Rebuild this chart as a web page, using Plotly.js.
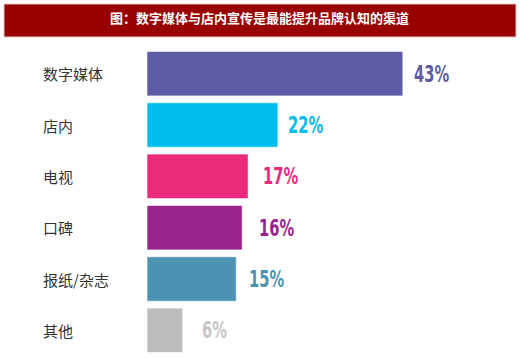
<!DOCTYPE html>
<html>
<head>
<meta charset="utf-8">
<script src="https://cdn.plot.ly/plotly-3.0.1.min.js"></script>
<style>html,body{margin:0;padding:0;background:#fff;}#chart{width:520px;height:361px;}</style>
</head>
<body>
<div id="chart"></div>
<script>
const titleText = "图：数字媒体与店内宣传是最能提升品牌认知的渠道";
const categories = ["数字媒体", "店内", "电视", "口碑", "报纸/杂志", "其他"];
const values = [43, 22, 17, 16, 15, 6];
const valueLabels = ["43%", "22%", "17%", "16%", "15%", "6%"];
const barColors = ["#5f5ca6", "#00bdf0", "#ec297b", "#97248b", "#4b93b3", "#bdbdbe"];
const labelColors = ["#5f5ca6", "#00bdf0", "#ec297b", "#97248b", "#4b93b3", "#c6c6c6"];
const labelGaps = [10, 9, 14, 16, 12, 18];

const W = 520, H = 361;
const ml = 147, mr = 0, mt = 48, mb = 5;
const pw = W - ml - mr, ph = H - mt - mb;

const trace = {
  type: "bar",
  orientation: "h",
  x: values,
  y: categories,
  marker: { color: barColors, line: { color: "rgba(255,255,255,0.6)", width: 1 } },
  hoverinfo: "none"
};

const annotations = [];
categories.forEach((c, i) => {
  annotations.push({
    xref: "paper", yref: "y", x: (41 - ml) / pw, y: c,
    xanchor: "left", yanchor: "middle", showarrow: false,
    text: c, font: { family: "Noto Sans CJK SC", size: 15, color: "#333333" }
  });
  annotations.push({
    xref: "x", yref: "y", x: values[i], y: c,
    xanchor: "left", yanchor: "middle", xshift: labelGaps[i] - 1, showarrow: false,
    text: "<b>" + valueLabels[i] + "</b>",
    font: { family: "DejaVu Sans Condensed, DejaVu Sans, sans-serif", size: 23, color: labelColors[i] }
  });
});

const layout = {
  width: W, height: H,
  margin: { l: ml, r: mr, t: mt, b: mb, pad: 0 },
  paper_bgcolor: "#ffffff", plot_bgcolor: "#ffffff",
  showlegend: false,
  bargap: 0.134,
  title: {
    text: "<b>" + titleText + "</b>",
    font: { family: "Noto Sans CJK SC", size: 13, color: "#ffffff" },
    x: 259.5 / W, xanchor: "center", xref: "container",
    y: 1 - 18 / H, yanchor: "middle", yref: "container"
  },
  xaxis: { range: [0, pw / 5.95], visible: false, fixedrange: true },
  yaxis: { type: "category", categoryorder: "array", categoryarray: categories, range: [5.5, -0.5], visible: false, fixedrange: true },
  shapes: [{
    type: "rect", xref: "paper", yref: "paper",
    x0: (4 - ml) / pw, x1: (516 - ml) / pw,
    y0: 1 + (mt - 37) / ph, y1: 1 + (mt - 4) / ph,
    fillcolor: "#990000", line: { color: "#e8c8c8", width: 1 }, layer: "below"
  }],
  annotations: annotations
};

function condense() {
  document.querySelectorAll("#chart g.annotation").forEach(g => {
    const idx = parseInt(g.getAttribute("data-index"), 10);
    if (idx % 2 === 1) {
      const t = g.querySelector("text");
      if (t) {
        t.style.transformBox = "fill-box";
        t.style.transformOrigin = "left center";
        t.style.transform = "scaleX(0.71)";
      }
    }
  });
}

Plotly.newPlot("chart", [trace], layout, { displayModeBar: false, staticPlot: true }).then(condense);
</script>
</body>
</html>
